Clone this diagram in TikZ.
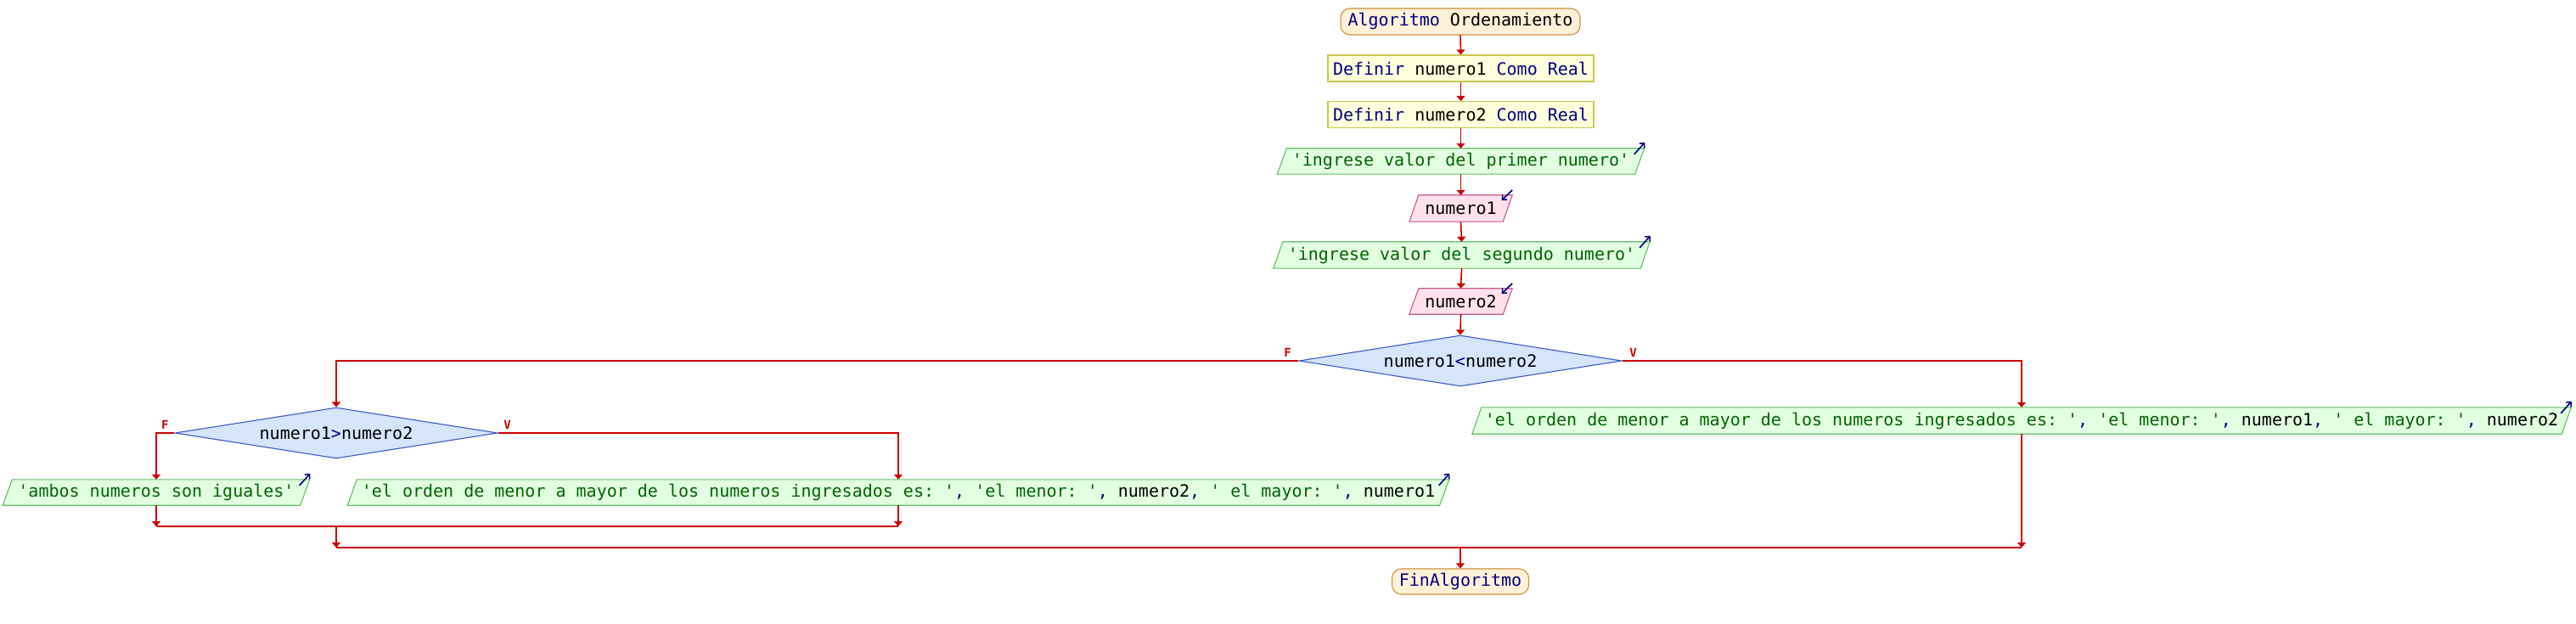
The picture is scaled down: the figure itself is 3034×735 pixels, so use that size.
\documentclass[tikz,border=0pt]{standalone}
\usepackage{fontspec}
\setmonofont{DejaVu Sans Mono}
\usetikzlibrary{arrows.meta,shapes.geometric,backgrounds}
\definecolor{navy}{RGB}{0,0,128}
\definecolor{strg}{RGB}{0,100,0}
\definecolor{flowred}{RGB}{204,0,0}
\definecolor{termf}{RGB}{255,241,216}
\definecolor{termd}{RGB}{205,145,60}
\definecolor{deff}{RGB}{255,255,221}
\definecolor{defd}{RGB}{200,200,80}
\definecolor{outf}{RGB}{226,255,226}
\definecolor{outd}{RGB}{100,190,100}
\definecolor{inpf}{RGB}{255,224,236}
\definecolor{inpd}{RGB}{200,90,140}
\definecolor{diaf}{RGB}{214,228,252}
\definecolor{diad}{RGB}{60,90,200}
\tikzset{
  x=1pt, y=-1pt,
  base/.style={font=\ttfamily\fontsize{20}{24}\selectfont, inner sep=0pt, minimum height=30pt},
  term/.style={base, draw=termd, fill=termf, rounded corners=11pt, line width=1.1pt},
  defb/.style={base, draw=defd, fill=deff, line width=1.1pt},
  para/.style={base},
  dia/.style={base, diamond, aspect=6.3, draw=diad, fill=diaf, line width=1.1pt, minimum width=380pt, minimum height=60pt},
  flow/.style={draw=flowred, line width=1.6pt, -{Triangle[length=6pt,width=10pt]}},
  plain/.style={draw=flowred, line width=1.6pt},
  iomark/.style={draw=navy, line width=1.6pt, -{Straight Barb[length=4pt,width=8pt]}},
  lab/.style={font=\ttfamily\bfseries\fontsize{14}{16}\selectfont, text=flowred, inner sep=0pt}
}
\newcommand\parabox[3]{%
  \begin{scope}[on background layer]
    \filldraw[fill=#2, draw=#3, line width=1.1pt]
      ([xshift=-5.5pt]#1.south west) -- ([xshift=-5.5pt]#1.south east) --
      ([xshift=5.5pt]#1.north east) -- ([xshift=5.5pt]#1.north west) -- cycle;
  \end{scope}}
\newcommand\outmark[1]{\draw[iomark] ([xshift=-6.5pt,yshift=-7pt]#1.north east) -- ([xshift=6pt,yshift=7pt]#1.north east);}
\newcommand\inmark[1]{\draw[iomark] ([xshift=5.5pt,yshift=6pt]#1.north east) -- ([xshift=-7pt,yshift=-6pt]#1.north east);}
\begin{document}
\begin{tikzpicture}
\begin{scope}[on background layer]
  \fill[white] (0,0) rectangle (3034,735);
\end{scope}
\useasboundingbox (0,0) rectangle (3034,735);

% nodes
\node[term, minimum width=282pt, minimum height=31pt] (start) at (1720,25.5) {{\color{navy}Algoritmo} Ordenamiento};
\node[defb, minimum width=313pt, minimum height=31pt] (def1) at (1720.5,80.5) {{\color{navy}Definir} numero1 {\color{navy}Como Real}};
\node[defb, minimum width=313pt, minimum height=31pt] (def2) at (1720.5,135) {{\color{navy}Definir} numero2 {\color{navy}Como Real}};
\node[para, minimum width=421pt] (o1) at (1720.5,190) {\color{strg}'ingrese valor del primer numero'};
\parabox{o1}{outf}{outd}\outmark{o1}
\node[para, minimum width=110pt, minimum height=31pt] (i1) at (1720.5,245.5) {numero1};
\parabox{i1}{inpf}{inpd}\inmark{i1}
\node[para, minimum width=432pt, minimum height=31pt] (o2) at (1721.5,300.5) {\color{strg}'ingrese valor del segundo numero'};
\parabox{o2}{outf}{outd}\outmark{o2}
\node[para, minimum width=110pt] (i2) at (1720.5,355) {numero2};
\parabox{i2}{inpf}{inpd}\inmark{i2}
\node[dia] (c1) at (1720,425) {numero1{\color{navy}<}numero2};
\node[dia] (c2) at (396,510) {numero1{\color{navy}>}numero2};
\node[para, minimum width=350pt] (oa) at (184,580) {\color{strg}'ambos numeros son iguales'};
\parabox{oa}{outf}{outd}\outmark{oa}
\node[para, minimum width=1286pt] (ol) at (1058,580) {{\color{strg}'el orden de menor a mayor de los numeros ingresados es: '}{\color{navy},} {\color{strg}'el menor: '}{\color{navy},} numero2{\color{navy},} {\color{strg}' el mayor: '}{\color{navy},} numero1};
\parabox{ol}{outf}{outd}\outmark{ol}
\node[para, minimum width=1283pt, minimum height=31pt] (or) at (2381,495.5) {{\color{strg}'el orden de menor a mayor de los numeros ingresados es: '}{\color{navy},} {\color{strg}'el menor: '}{\color{navy},} numero1{\color{navy},} {\color{strg}' el mayor: '}{\color{navy},} numero2};
\parabox{or}{outf}{outd}\outmark{or}
\node[term, minimum width=161pt] (fin) at (1720,685) {\color{navy}FinAlgoritmo};

% labels
\node[lab] (c1f) at ([xshift=-13pt,yshift=10pt]c1.west) {F};
\node[lab] (c1v) at ([xshift=13pt,yshift=10pt]c1.east) {V};
\node[lab] (c2f) at ([xshift=-11pt,yshift=10pt]c2.west) {F};
\node[lab] (c2v) at ([xshift=11pt,yshift=10pt]c2.east) {V};

% junction points
\coordinate (j1L) at (184,620);
\coordinate (j1R) at (1058,620);
\coordinate (j1) at (396,620);
\coordinate (j2L) at (396,645);
\coordinate (j2R) at (2381,645);
\coordinate (j2) at (1720,645);

% connectors
\draw[flow] (start.south) -- (def1.north);
\draw[flow] (def1.south) -- (def2.north);
\draw[flow] (def2.south) -- (o1.north);
\draw[flow] (o1.south) -- (i1.north);
\draw[flow] (i1.south) -- (o2.north);
\draw[flow] (o2.south) -- (i2.north);
\draw[flow] (i2.south) -- (c1.north);
\draw[flow] (c1.west) -| (c2.north);
\draw[flow] (c1.east) -| (or.north);
\draw[flow] (c2.west) -| (oa.north);
\draw[flow] (c2.east) -| (ol.north);
\draw[flow] (oa.south) -- (j1L);
\draw[flow] (ol.south) -- (j1R);
\draw[plain] (j1L) -- (j1R);
\draw[flow] (j1) -- (j2L);
\draw[plain] (j2L) -- (j2R);
\draw[flow] (or.south) -- (j2R);
\draw[flow] (j2) -- (fin.north);
\end{tikzpicture}
\end{document}
